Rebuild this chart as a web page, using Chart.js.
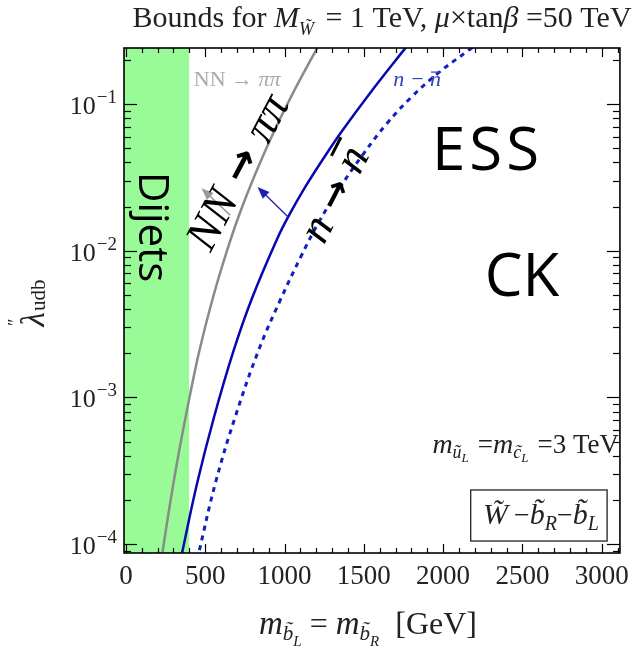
<!DOCTYPE html>
<html>
<head>
<meta charset="utf-8">
<script src="https://cdn.jsdelivr.net/npm/chart.js@4.4.0/dist/chart.umd.min.js"></script>
<style>
  html, body { margin: 0; padding: 0; background: #fff; }
</style>
</head>
<body>
<canvas id="boundsChart" width="637" height="648"></canvas>
<script>
// axis ranges
const massMin = -12, massMax = 3115;
const lambdaMin = 8.7e-5, lambdaMax = 0.241;
const massTicks = [0, 500, 1000, 1500, 2000, 2500, 3000];
const lambdaDecades = [1e-4, 1e-3, 1e-2, 1e-1];
const lambdaExponents = ['−4', '−3', '−2', '−1'];

// NN -> pi pi bound (gray)
const nnLambda = [6.7e-5, 8.7e-5, 2.0e-4, 4.4e-4, 1.0e-3, 2.1e-3, 4.8e-3, 9.6e-3, 1.8e-2, 3.4e-2, 6.3e-2, 0.112, 0.233, 0.295];
const nnMass   = [214,    230,    282,    337,    401,    464,    549,    632,    718,    819,    928,    1041,  1199,  1253];

// n - nbar oscillation bound (blue, solid)
const nnbarLambda = [6.7e-5, 8.7e-5, 2.6e-4, 7.3e-4, 2.1e-3, 4.8e-3, 1.18e-2, 1.7e-2, 2.7e-2, 4.6e-2, 6.6e-2, 0.119, 0.233, 0.295];
const nnbarMass   = [333,    354,    449,    555,    680,    797,    950,     1023,   1129,   1266,   1365,   1540,  1752,  1829];

// future n - nbar reach (blue, dashed)
const essLambda = [6.7e-5, 8.7e-5, 2.6e-4, 7.3e-4, 2.1e-3, 4.6e-3, 9.1e-3, 1.55e-2, 2.7e-2, 4.6e-2, 7.4e-2, 0.112, 0.163, 0.233, 0.295];
const essMass   = [434,    459,    564,    688,    837,    973,    1103,   1214,    1350,   1499,   1647,   1802,  1970,  2162,  2291];

// dijet exclusion
const dijetMass = 400;

const SERIF = '"Liberation Serif", "DejaVu Serif", serif';
const SANS = '"Open Sans", "Liberation Sans", sans-serif';

const toPoints = (mass, lambda) => mass.map((m, i) => ({ x: m, y: lambda[i] }));

// draw a run of differently styled text pieces
function drawParts(ctx, parts, x, y, align) {
  let total = 0;
  parts.forEach(p => {
    ctx.font = p.f;
    p.w = ctx.measureText(p.t).width + (p.gap || 0);
    total += p.w;
  });
  let cx = align === 'right' ? x - total : align === 'center' ? x - total / 2 : x;
  ctx.textAlign = 'left';
  parts.forEach(p => {
    ctx.font = p.f;
    if (p.c) ctx.fillStyle = p.c;
    ctx.fillText(p.t, cx, y + (p.dy || 0));
    p.x = cx;
    cx += p.w;
  });
  return parts;
}

function arrow(ctx, x0, y0, x1, y1, color, width, head) {
  const ang = Math.atan2(y1 - y0, x1 - x0);
  ctx.strokeStyle = color;
  ctx.fillStyle = color;
  ctx.lineWidth = width;
  ctx.beginPath();
  ctx.moveTo(x0, y0);
  ctx.lineTo(x1 - head * 0.8 * Math.cos(ang), y1 - head * 0.8 * Math.sin(ang));
  ctx.stroke();
  ctx.beginPath();
  ctx.moveTo(x1, y1);
  ctx.lineTo(x1 - head * Math.cos(ang) + head * 0.4 * Math.sin(ang), y1 - head * Math.sin(ang) - head * 0.4 * Math.cos(ang));
  ctx.lineTo(x1 - head * Math.cos(ang) - head * 0.4 * Math.sin(ang), y1 - head * Math.sin(ang) + head * 0.4 * Math.cos(ang));
  ctx.closePath();
  ctx.fill();
}

// -------------------------------
// Frame, inward ticks, tick labels, axis titles
// -------------------------------
const framePlugin = {
  id: 'frame',
  afterDatasetsDraw(chart) {
    const { ctx, chartArea: a, scales: { x, y } } = chart;
    ctx.save();
    ctx.strokeStyle = '#000';
    ctx.lineWidth = 1.2;
    const seg = (x0, y0, x1, y1) => { ctx.beginPath(); ctx.moveTo(x0, y0); ctx.lineTo(x1, y1); ctx.stroke(); };

    // x ticks, every 100 GeV, longer at labels
    for (let m = 0; m <= massMax; m += 100) {
      const p = Math.round(x.getPixelForValue(m)) + 0.5;
      const len = m % 500 === 0 ? 9 : 5;
      seg(p, a.bottom, p, a.bottom - len);
      seg(p, a.top, p, a.top + len);
    }
    // y ticks, log minor ticks
    for (let e = -5; e <= 0; e++) {
      for (let k = 1; k <= 9; k++) {
        const v = k * Math.pow(10, e);
        if (v < lambdaMin || v > lambdaMax) continue;
        const p = Math.round(y.getPixelForValue(v)) + 0.5;
        const len = k === 1 ? 13 : 7;
        seg(a.left, p, a.left + len, p);
        seg(a.right, p, a.right - len, p);
      }
    }
    ctx.lineWidth = 1.6;
    ctx.strokeRect(a.left, a.top, a.right - a.left, a.bottom - a.top);

    // y tick labels 10^-n
    ctx.fillStyle = '#222';
    ctx.textBaseline = 'alphabetic';
    lambdaDecades.forEach((d, i) => {
      const p = y.getPixelForValue(d);
      drawParts(ctx, [
        { t: '10', f: `26px ${SERIF}`, dy: 10, gap: 1 },
        { t: lambdaExponents[i], f: `19px ${SERIF}`, dy: -1 }
      ], a.left - 7, p, 'right');
    });

    // x axis title
    ctx.fillStyle = '#222';
    drawParts(ctx, [
      { t: 'm', f: `italic 33px ${SERIF}` },
      { t: 'b\u0303', f: `italic 21px ${SERIF}`, dy: 6 },
      { t: 'L', f: `italic 15px ${SERIF}`, dy: 12 },
      { t: ' = ', f: `32px ${SERIF}` },
      { t: 'm', f: `italic 33px ${SERIF}` },
      { t: 'b\u0303', f: `italic 21px ${SERIF}`, dy: 6 },
      { t: 'R', f: `italic 15px ${SERIF}`, dy: 12 },
      { t: '  [GeV]', f: `32px ${SERIF}` }
    ], 368, 634, 'center');

    // y axis title
    ctx.save();
    ctx.translate(44, 303);
    ctx.rotate(-Math.PI / 2);
    drawParts(ctx, [
      { t: 'λ', f: `italic 33px ${SERIF}`, gap: 1 },
      { t: 'udb', f: `21px ${SERIF}`, dy: 1 }
    ], 0, 0, 'center');
    ctx.font = `18px ${SERIF}`;
    ctx.fillText('\u2033', -23, -23);
    ctx.restore();

    // title
    drawParts(ctx, [
      { t: 'Bounds for ', f: `30px ${SERIF}` },
      { t: 'M', f: `italic 30px ${SERIF}` },
      { t: 'W\u0303', f: `italic 18px ${SERIF}`, dy: 8, gap: 4 },
      { t: ' = 1 TeV, ', f: `30px ${SERIF}` },
      { t: 'μ', f: `italic 30px ${SERIF}` },
      { t: '×tan', f: `30px ${SERIF}` },
      { t: 'β', f: `italic 30px ${SERIF}` },
      { t: ' =50 TeV', f: `30px ${SERIF}` }
    ], 382, 27, 'center');
    ctx.restore();
  }
};

// -------------------------------
// Region labels and arrows
// -------------------------------
const labelPlugin = {
  id: 'labels',
  afterDatasetsDraw(chart) {
    const { ctx, scales: { x, y } } = chart;
    const px = m => x.getPixelForValue(m);
    const py = l => y.getPixelForValue(l);
    ctx.save();
    ctx.textBaseline = 'middle';

    // Dijets, vertical
    ctx.save();
    ctx.translate(px(155), py(0.0145));
    ctx.rotate(Math.PI / 2);
    ctx.fillStyle = '#000';
    ctx.font = `42px ${SANS}`;
    ctx.textAlign = 'center';
    ctx.fillText('Dijets', 0, 0);
    ctx.restore();

    // ESS / CK
    ctx.fillStyle = '#000';
    ctx.font = `60px ${SANS}`;
    ctx.textAlign = 'center';
    ctx.letterSpacing = '4px';
    ctx.fillText('ESS', px(2236) + 7, py(0.0464));
    ctx.letterSpacing = '0px';
    ctx.fillText('CK', px(2459) + 6, py(0.0064));

    // arrows pointing into the excluded side
    arrow(ctx, px(657), py(0.0175), px(477), py(0.0267), '#999', 1.5, 12);
    arrow(ctx, px(1023), py(0.0170), px(830), py(0.0272), '#2020b0', 1.3, 12);

    // big rotated labels
    ctx.textBaseline = 'alphabetic';
    ctx.save();
    ctx.translate(px(706), py(0.0344));
    ctx.rotate(-62 * Math.PI / 180);
    drawParts(ctx, [
      { t: 'NN', f: `italic 46px ${SERIF}`, c: '#000' },
      { t: ' → ', f: `bold 40px "DejaVu Sans", sans-serif`, dy: -2 },
      { t: 'ππ', f: `italic 46px ${SERIF}` }
    ], 0, 14, 'center');
    ctx.restore();

    ctx.save();
    ctx.translate(px(1326), py(0.024));
    ctx.rotate(-63 * Math.PI / 180);
    const nParts = drawParts(ctx, [
      { t: 'n', f: `italic 46px ${SERIF}`, c: '#000' },
      { t: ' → ', f: `bold 36px "DejaVu Sans", sans-serif`, dy: -2 },
      { t: 'n', f: `italic 46px ${SERIF}` }
    ], 0, 12, 'center');
    const last = nParts[2];
    ctx.strokeStyle = '#000';
    ctx.lineWidth = 3;
    ctx.beginPath();
    ctx.moveTo(last.x + 5, -22);
    ctx.lineTo(last.x + last.w + 3, -22);
    ctx.stroke();
    ctx.restore();

    // small original legend labels
    drawParts(ctx, [
      { t: 'NN → ', f: `22px ${SERIF}`, c: '#aaa' },
      { t: 'ππ', f: `italic 22px ${SERIF}` }
    ], px(428), py(0.1368) + 2, 'left');
    const small = drawParts(ctx, [
      { t: 'n − n', f: `italic 22px ${SERIF}`, c: '#3040b8' }
    ], px(1685), py(0.1368) + 2, 'left');
    ctx.strokeStyle = '#3040b8';
    ctx.lineWidth = 1.2;
    ctx.beginPath();
    ctx.moveTo(small[0].x + small[0].w - 10, py(0.1368) - 12);
    ctx.lineTo(small[0].x + small[0].w, py(0.1368) - 12);
    ctx.stroke();

    // parameter note and model box
    ctx.fillStyle = '#222';
    drawParts(ctx, [
      { t: 'm', f: `italic 28px ${SERIF}` },
      { t: 'u\u0303', f: `italic 18px ${SERIF}`, dy: 5 },
      { t: 'L', f: `italic 13px ${SERIF}`, dy: 9, gap: 9 },
      { t: '=', f: `27px ${SERIF}` },
      { t: 'm', f: `italic 28px ${SERIF}` },
      { t: 'c\u0303', f: `italic 18px ${SERIF}`, dy: 5 },
      { t: 'L', f: `italic 13px ${SERIF}`, dy: 9, gap: 9 },
      { t: '=3 TeV', f: `27px ${SERIF}` }
    ], px(3059) + 8, py(4.18e-4), 'right');

    const bx0 = px(2174), bx1 = px(3034), by0 = py(2.34e-4), by1 = py(1.05e-4);
    ctx.strokeStyle = '#222';
    ctx.lineWidth = 1.3;
    ctx.strokeRect(bx0, by0, bx1 - bx0, by1 - by0);
    drawParts(ctx, [
      { t: 'W\u0303', f: `italic 30px ${SERIF}`, gap: 6 },
      { t: '−', f: `28px ${SERIF}` },
      { t: 'b\u0303', f: `italic 30px ${SERIF}` },
      { t: 'R', f: `italic 20px ${SERIF}`, dy: 6 },
      { t: '−', f: `28px ${SERIF}` },
      { t: 'b\u0303', f: `italic 30px ${SERIF}` },
      { t: 'L', f: `italic 20px ${SERIF}`, dy: 6 }
    ], (bx0 + bx1) / 2 + 2, (by0 + by1) / 2 + 9, 'center');
    ctx.restore();
  }
};

new Chart(document.getElementById('boundsChart'), {
  type: 'line',
  data: {
    datasets: [
      {
        label: 'NN → ππ',
        data: toPoints(nnMass, nnLambda),
        borderColor: '#8a8a8a',
        borderWidth: 2.5,
        pointRadius: 0,
        tension: 0.4,
        fill: false
      },
      {
        label: 'n → n̄',
        data: toPoints(nnbarMass, nnbarLambda),
        borderColor: '#0808b0',
        borderWidth: 2.5,
        pointRadius: 0,
        tension: 0.4,
        fill: false
      },
      {
        label: 'ESS reach',
        data: toPoints(essMass, essLambda),
        borderColor: '#1020c0',
        borderWidth: 3,
        borderDash: [5, 5],
        pointRadius: 0,
        tension: 0.4,
        fill: false
      },
      {
        label: 'Dijets',
        data: [{ x: massMin, y: lambdaMax }, { x: dijetMass, y: lambdaMax }],
        borderWidth: 0,
        borderColor: 'rgba(0,0,0,0)',
        backgroundColor: '#98fb98',
        pointRadius: 0,
        fill: 'start'
      }
    ]
  },
  options: {
    responsive: false,
    animation: false,
    layout: { padding: { top: 48, right: 8, left: 0, bottom: 0 } },
    plugins: {
      legend: { display: false },
      tooltip: { enabled: false },
      title: { display: false }
    },
    scales: {
      x: {
        type: 'linear',
        min: massMin,
        max: massMax,
        afterBuildTicks: scale => { scale.ticks = massTicks.map(v => ({ value: v })); },
        afterFit: scale => { scale.height = 95; },
        grid: { display: false, drawTicks: false },
        border: { display: false },
        ticks: {
          autoSkip: false,
          maxRotation: 0,
          padding: 8,
          color: '#222',
          font: { family: SERIF, size: 27 },
          callback: v => String(v)
        }
      },
      y: {
        type: 'logarithmic',
        min: lambdaMin,
        max: lambdaMax,
        afterFit: scale => { scale.width = 124; },
        grid: { display: false, drawTicks: false },
        border: { display: false },
        ticks: { display: false }
      }
    }
  },
  plugins: [framePlugin, labelPlugin]
});
</script>
</body>
</html>
